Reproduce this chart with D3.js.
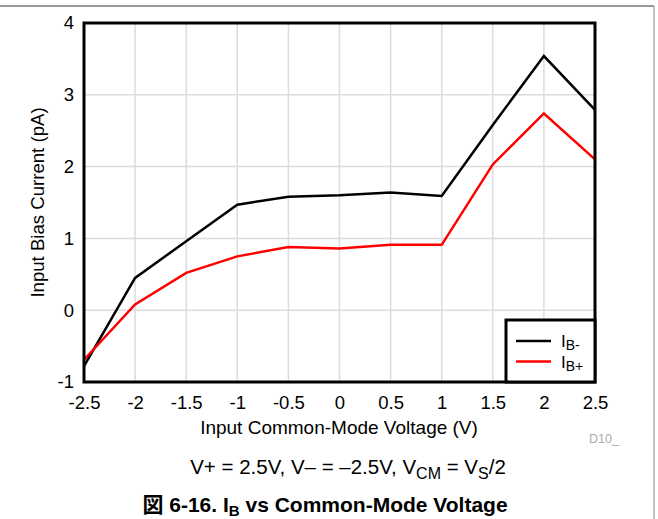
<!DOCTYPE html>
<html>
<head>
<meta charset="utf-8">
<script src="https://cdn.jsdelivr.net/npm/d3@7"></script>
<style>
  body { margin: 0; background: #fff; }
  text { font-family: "Liberation Sans", Arial, sans-serif; }
</style>
</head>
<body>
<svg id="chart" width="658" height="519"></svg>
<script>
// data
const voltages = [-2.5, -2, -1.5, -1, -0.5, 0, 0.5, 1, 1.5, 2, 2.5];
const ibMinus = [-0.78, 0.45, 0.96, 1.47, 1.58, 1.60, 1.64, 1.59, 2.58, 3.54, 2.79];
const ibPlus = [-0.69, 0.08, 0.52, 0.75, 0.88, 0.86, 0.91, 0.91, 2.03, 2.74, 2.10];
const xTicks = [-2.5, -2, -1.5, -1, -0.5, 0, 0.5, 1, 1.5, 2, 2.5];
const yTicks = [-1, 0, 1, 2, 3, 4];
const seriesNames = ["IB-", "IB+"];
const seriesColors = ["#000000", "#ff0000"];

const svg = d3.select("#chart");

// page frame lines
svg.append("line").attr("x1", 0).attr("x2", 654).attr("y1", 6).attr("y2", 6)
  .attr("stroke", "#333").attr("stroke-width", 1.2);
svg.append("line").attr("x1", 654).attr("x2", 654).attr("y1", 6).attr("y2", 519)
  .attr("stroke", "#999").attr("stroke-width", 1.2);

const pL = 84, pR = 595, pT = 23, pB = 382;
const x = d3.scaleLinear().domain([-2.5, 2.5]).range([pL, pR]);
const y = d3.scaleLinear().domain([-1, 4]).range([pB, pT]);

// grid
svg.append("g").selectAll("line").data(xTicks).enter().append("line")
  .attr("x1", d => x(d)).attr("x2", d => x(d))
  .attr("y1", pT).attr("y2", pB)
  .attr("stroke", "#dcdcdc").attr("stroke-width", 1.5);
svg.append("g").selectAll("line").data(yTicks).enter().append("line")
  .attr("x1", pL).attr("x2", pR)
  .attr("y1", d => y(d)).attr("y2", d => y(d))
  .attr("stroke", "#dcdcdc").attr("stroke-width", 1.5);

// tick labels via d3 axes (no lines), plain hyphen minus like the original
const xAxis = svg.append("g").attr("transform", `translate(0,${pB + 11})`)
  .call(d3.axisBottom(x).tickValues(xTicks).tickSize(0).tickFormat(d => String(d)));
xAxis.select(".domain").remove();
xAxis.selectAll("text").attr("font-size", 18.5).attr("fill", "#000")
  .attr("font-family", "Liberation Sans, Arial, sans-serif");

const yAxis = svg.append("g").attr("transform", `translate(${pL - 7},0)`)
  .call(d3.axisLeft(y).tickValues(yTicks).tickSize(0).tickFormat(d => String(d)));
yAxis.select(".domain").remove();
yAxis.selectAll("text").attr("font-size", 18.5).attr("fill", "#000")
  .attr("font-family", "Liberation Sans, Arial, sans-serif");

// series
const line = d3.line().x((d, i) => x(voltages[i])).y(d => y(d));
[ibMinus, ibPlus].forEach((s, k) => {
  svg.append("path").datum(s).attr("d", line)
    .attr("fill", "none").attr("stroke", seriesColors[k])
    .attr("stroke-width", 2.5).attr("stroke-linejoin", "miter");
});

// plot frame
svg.append("rect").attr("x", pL).attr("y", pT)
  .attr("width", pR - pL).attr("height", pB - pT)
  .attr("fill", "none").attr("stroke", "#000").attr("stroke-width", 3);

// legend
const lg = svg.append("g");
lg.append("rect").attr("x", 506).attr("y", 320).attr("width", pR - 506).attr("height", pB - 320)
  .attr("fill", "#fff").attr("stroke", "#000").attr("stroke-width", 3);
seriesNames.forEach((n, i) => {
  const ly = 341 + i * 20.5;
  lg.append("line").attr("x1", 516).attr("x2", 551).attr("y1", ly).attr("y2", ly)
    .attr("stroke", seriesColors[i]).attr("stroke-width", 2.5);
  const t = lg.append("text").attr("x", 561).attr("y", ly + 6).attr("font-size", 17);
  t.append("tspan").text("I");
  t.append("tspan").attr("font-size", 14).attr("dy", 3).text(n.slice(1));
});

// axis titles
svg.append("text").attr("x", 339).attr("y", 434)
  .attr("text-anchor", "middle").attr("font-size", 19)
  .text("Input Common-Mode Voltage (V)");
svg.append("text").attr("transform", `translate(44,${(pT + pB) / 2}) rotate(-90)`)
  .attr("text-anchor", "middle").attr("font-size", 18.6)
  .text("Input Bias Current (pA)");
svg.append("text").attr("x", 589).attr("y", 443).attr("font-size", 12.5)
  .attr("fill", "#aaa").text("D10_");

// condition line
const sub = svg.append("text").attr("x", 348).attr("y", 474)
  .attr("text-anchor", "middle").attr("font-size", 20.5);
sub.append("tspan").text("V+ = 2.5V, V\u2013 = \u20132.5V, V");
sub.append("tspan").attr("font-size", 16).attr("dy", 5).text("CM");
sub.append("tspan").attr("dy", -5).text(" = V");
sub.append("tspan").attr("font-size", 16).attr("dy", 5).text("S");
sub.append("tspan").attr("dy", -5).text("/2");

// caption
const cap = svg.append("text").attr("x", 325).attr("y", 512)
  .attr("text-anchor", "middle").attr("font-size", 21).attr("font-weight", "bold");
cap.append("tspan").attr("font-family", "Noto Sans CJK JP").text("\u56f3");
cap.append("tspan").text(" 6-16. I");
cap.append("tspan").attr("font-size", 15).attr("dy", 4).text("B");
cap.append("tspan").attr("dy", -4).text(" vs Common-Mode Voltage");
</script>
</body>
</html>
